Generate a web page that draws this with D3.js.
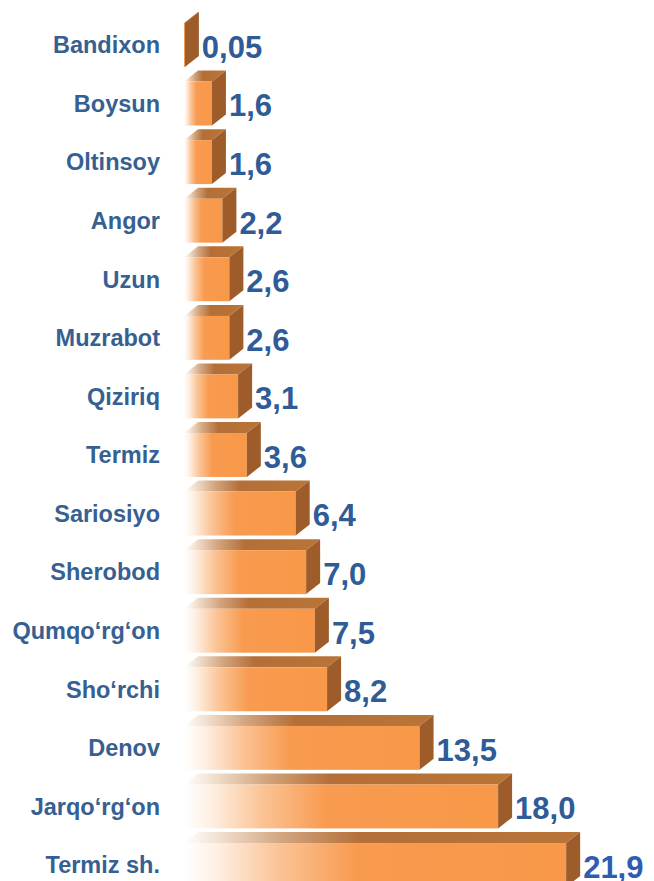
<!DOCTYPE html>
<html>
<head>
<meta charset="utf-8">
<script src="https://cdn.jsdelivr.net/npm/d3@7/dist/d3.min.js"></script>
<style>
  html, body { margin: 0; padding: 0; background: #ffffff; }
  svg { display: block; }
</style>
</head>
<body>
<svg id="chart" width="654" height="881"></svg>
<script>
const categories = ["Bandixon", "Boysun", "Oltinsoy", "Angor", "Uzun", "Muzrabot", "Qiziriq", "Termiz",
  "Sariosiyo", "Sherobod", "Qumqo‘rg‘on", "Sho‘rchi", "Denov", "Jarqo‘rg‘on", "Termiz sh."];
const values = [0.05, 1.6, 1.6, 2.2, 2.6, 2.6, 3.1, 3.6, 6.4, 7.0, 7.5, 8.2, 13.5, 18.0, 21.9];
const valueLabels = ["0,05", "1,6", "1,6", "2,2", "2,6", "2,6", "3,1", "3,6", "6,4", "7,0", "7,5", "8,2", "13,5", "18,0", "21,9"];

const data = categories.map((c, i) => ({ cat: c, value: values[i], label: valueLabels[i] }));
const maxVal = d3.max(values);

const svg = d3.select("#chart");

const x = d3.scaleLinear().domain([0, 22]).range([184, 184 + 22 * 17.45]);
const y = d3.scaleBand().domain(categories).range([15.7, 894.3]).paddingInner(0.25).paddingOuter(0.125);

const DX = 14, DY = 11;

const defs = svg.append("defs");
const gFront = defs.append("linearGradient").attr("id", "gFront").attr("x1", 0).attr("x2", 1).attr("y1", 0).attr("y2", 0);
[[0, "#ffffff"], [0.08, "#fef1e6"], [0.25, "#fbc395"], [0.45, "#f89b50"], [1, "#f89848"]].forEach(s =>
  gFront.append("stop").attr("offset", s[0]).attr("stop-color", s[1]));
const gTop = defs.append("linearGradient").attr("id", "gTop").attr("x1", 0).attr("x2", 1).attr("y1", 0).attr("y2", 0);
[[0, "#ffffff"], [0.08, "#f3e3d4"], [0.25, "#d2a47e"], [0.45, "#b46e37"], [1, "#b97538"]].forEach(s =>
  gTop.append("stop").attr("offset", s[0]).attr("stop-color", s[1]));

const bars = svg.append("g").selectAll("g").data(data).join("g");

bars.each(function(d) {
  const g = d3.select(this);
  const x0 = x(0), x1 = x(d.value);
  const yt = y(d.cat), yb = y(d.cat) + y.bandwidth();
  g.append("path")
    .attr("d", `M${x0},${yt} L${x0 + DX},${yt - DY} L${x1 + DX},${yt - DY} L${x1},${yt} Z`)
    .attr("fill", d.value < 0.5 ? "#b06a33" : "url(#gTop)");
  g.append("rect")
    .attr("x", x0).attr("y", yt)
    .attr("width", Math.max(0, x1 - x0)).attr("height", yb - yt)
    .attr("fill", "url(#gFront)");
  g.append("path")
    .attr("d", `M${x1},${yt} L${x1 + DX},${yt - DY} L${x1 + DX},${yb - DY} L${x1},${yb} Z`)
    .attr("fill", "#9d5c2a");
});

svg.append("g").selectAll("text").data(data).join("text")
  .attr("x", 160)
  .attr("y", d => y(d.cat) + y.bandwidth() / 2)
  .attr("dy", "0.35em")
  .attr("text-anchor", "end")
  .attr("font-family", "'Liberation Sans', Arial, sans-serif")
  .attr("font-weight", "bold")
  .attr("font-size", 23.5)
  .attr("fill", "#376092")
  .text(d => d.cat);

svg.append("g").selectAll("text").data(data).join("text")
  .attr("x", d => x(d.value) + DX + 3)
  .attr("y", d => y(d.cat) + y.bandwidth() / 2 + 2)
  .attr("dy", "0.35em")
  .attr("text-anchor", "start")
  .attr("font-family", "'Liberation Sans', Arial, sans-serif")
  .attr("font-weight", "bold")
  .attr("font-size", 31)
  .attr("fill", d => d.value === maxVal ? "#2f5cb2" : "#2f5b97")
  .text(d => d.label);
</script>
</body>
</html>
